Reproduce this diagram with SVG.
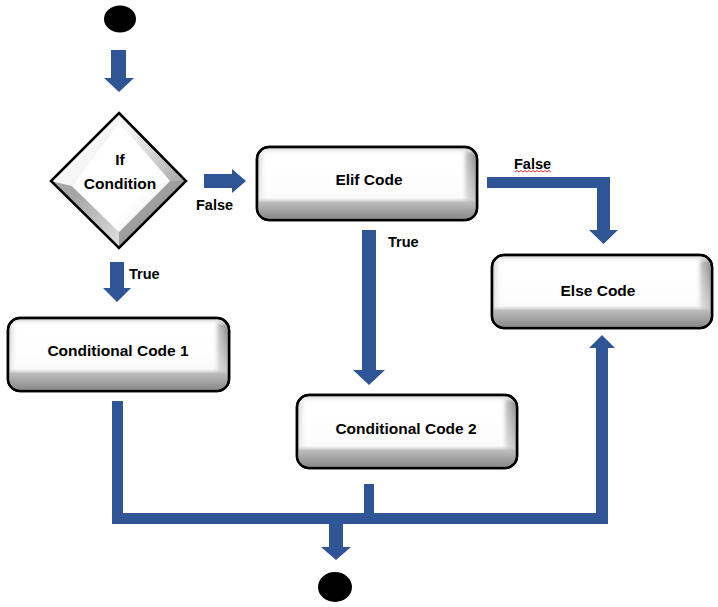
<svg xmlns="http://www.w3.org/2000/svg" width="718" height="607" viewBox="0 0 718 607">
<defs>
<linearGradient id="gh" x1="0" y1="0" x2="1" y2="0">
<stop offset="0" stop-color="#d2d2d2"/>
<stop offset="0.04" stop-color="#ffffff" stop-opacity="0"/>
<stop offset="0.93" stop-color="#ffffff" stop-opacity="0"/>
<stop offset="0.96" stop-color="#c4c4c4"/>
<stop offset="1" stop-color="#8f8f8f"/>
</linearGradient>
<linearGradient id="gv" x1="0" y1="0" x2="0" y2="1">
<stop offset="0" stop-color="#dadada"/>
<stop offset="0.09" stop-color="#ffffff" stop-opacity="0"/>
<stop offset="0.7" stop-color="#f6f6f6" stop-opacity="0.5"/>
<stop offset="0.77" stop-color="#bcbcbc"/>
<stop offset="1" stop-color="#8a8a8a"/>
</linearGradient>
<linearGradient id="dtr" x1="0" y1="0" x2="1" y2="1">
<stop offset="0.2" stop-color="#f6f6f6"/>
<stop offset="1" stop-color="#a8a8a8"/>
</linearGradient>
<linearGradient id="dbl" x1="0" y1="0" x2="1" y2="1">
<stop offset="0.3" stop-color="#a6a6a6"/>
<stop offset="1" stop-color="#e0e0e0"/>
</linearGradient>
<linearGradient id="dbr" x1="0" y1="0" x2="1" y2="1">
<stop offset="0.4" stop-color="#a0a0a0"/>
<stop offset="1" stop-color="#777777"/>
</linearGradient>
<linearGradient id="din" x1="0" y1="0" x2="1" y2="1">
<stop offset="0" stop-color="#ffffff"/>
<stop offset="0.65" stop-color="#ffffff"/>
<stop offset="1" stop-color="#ececec"/>
</linearGradient>
</defs>
<style>
.bx{stroke:#000;stroke-width:2.5;}
.ov{stroke:none;}
.t{font-family:"Liberation Sans",Arial,sans-serif;font-weight:bold;font-size:15.5px;fill:#000;text-anchor:middle;}
.lb{font-family:"Liberation Sans",Arial,sans-serif;font-weight:bold;font-size:14.5px;fill:#000;}
.ar{fill:#2F5597;stroke:none;}
</style>

<g id="start"><ellipse cx="120" cy="19" rx="16" ry="13.5" fill="#000"/></g>

<g id="ifcond">
<polygon points="119,113 186,181 119,248 51,181" fill="#d8d8d8"/>
<polygon points="119,113 186,181 170,181 119,122" fill="url(#dtr)"/>
<polygon points="186,181 119,248 119,232 170,181" fill="url(#dbr)"/>
<polygon points="119,248 51,181 72,186 119,232" fill="url(#dbl)"/>
<polygon points="51,181 119,113 119,122 72,186" fill="#f6f6f6"/>
<polygon points="119,122 170,181 119,232 72,186" fill="url(#din)"/>
<polygon points="119,113 186,181 119,248 51,181" fill="none" class="bx"/>
<text class="t" x="120" y="165">If</text>
<text class="t" x="120" y="189">Condition</text>
</g>

<g id="elif">
<rect x="257" y="147" width="220" height="73" rx="12" fill="#fff" class="bx"/>
<rect x="258.5" y="148.5" width="217" height="70" rx="11" fill="url(#gh)" class="ov"/>
<rect x="258.5" y="148.5" width="217" height="70" rx="11" fill="url(#gv)" class="ov"/>
<rect x="257" y="147" width="220" height="73" rx="12" fill="none" class="bx"/>
<text class="t" x="369" y="185">Elif Code</text>
</g>

<g id="else">
<rect x="492" y="255" width="220" height="73" rx="12" fill="#fff" class="bx"/>
<rect x="493.5" y="256.5" width="217" height="70" rx="11" fill="url(#gh)" class="ov"/>
<rect x="493.5" y="256.5" width="217" height="70" rx="11" fill="url(#gv)" class="ov"/>
<rect x="492" y="255" width="220" height="73" rx="12" fill="none" class="bx"/>
<text class="t" x="598" y="296">Else Code</text>
</g>

<g id="code1">
<rect x="8" y="318" width="221" height="73" rx="12" fill="#fff" class="bx"/>
<rect x="9.5" y="319.5" width="218" height="70" rx="11" fill="url(#gh)" class="ov"/>
<rect x="9.5" y="319.5" width="218" height="70" rx="11" fill="url(#gv)" class="ov"/>
<rect x="8" y="318" width="221" height="73" rx="12" fill="none" class="bx"/>
<text class="t" x="118" y="356">Conditional Code 1</text>
</g>

<g id="code2">
<rect x="297" y="395" width="220" height="73" rx="12" fill="#fff" class="bx"/>
<rect x="298.5" y="396.5" width="217" height="70" rx="11" fill="url(#gh)" class="ov"/>
<rect x="298.5" y="396.5" width="217" height="70" rx="11" fill="url(#gv)" class="ov"/>
<rect x="297" y="395" width="220" height="73" rx="12" fill="none" class="bx"/>
<text class="t" x="406" y="434">Conditional Code 2</text>
</g>

<g id="end"><ellipse cx="335" cy="587" rx="17" ry="15" fill="#000"/></g>

<g id="connectors">
<polygon class="ar" points="111,50 126,50 126,78 134,78 119,92 104,78 111,78"/>
<polygon class="ar" points="204,174 232,174 232,169 246,181 232,193 232,188 204,188"/>
<polygon class="ar" points="110,262 124,262 124,288 131,288 117,302 103,288 110,288"/>
<polygon class="ar" points="487,177 610,177 610,230 618,230 603.5,244 589,230 597,230 597,188 487,188"/>
<polygon class="ar" points="362,230 376,230 376,370 385,370 369,385 353,370 362,370"/>
<polygon class="ar" points="112,401 123,401 123,513 364,513 364,484 374,484 374,513 596,513 596,348 589,348 602,335 615,348 608,348 608,524 343,524 343,547 351,547 336,560 321,547 329,547 329,524 112,524"/>
<text class="lb" x="196" y="210">False</text>
<text class="lb" x="129" y="279">True</text>
<text class="lb" x="514" y="169">False</text>
<polyline points="515,172 517,170.5 519,172 521,170.5 523,172 525,170.5 527,172 529,170.5 531,172 533,170.5 535,172 537,170.5 539,172 541,170.5 543,172 545,170.5 547,172 549,170.5 551,172" fill="none" stroke="#e03030" stroke-width="1"/>
<text class="lb" x="388" y="247">True</text>
</g>
</svg>
